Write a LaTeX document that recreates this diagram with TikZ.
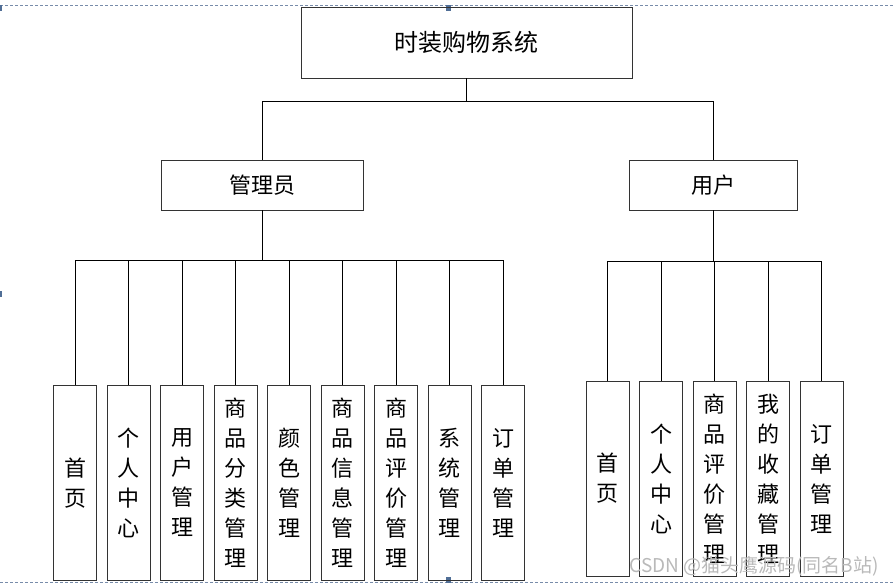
\documentclass[tikz,border=0pt]{standalone}
\usepackage{fontspec}
\setmainfont{Noto Sans CJK SC}
\usepackage{tikz}
\usetikzlibrary{positioning}
\definecolor{dashcol}{RGB}{120,140,170}
\definecolor{markcol}{RGB}{80,110,150}

\begin{document}
\begin{tikzpicture}[x=1pt,y=-1pt,node distance=53.5pt,
				box/.style={draw=black!80,line width=0.9pt,inner sep=0pt},
				leaf/.style={box,minimum width=43pt,minimum height=195pt,
					align=center,font=\fontsize{22}{30}\selectfont},
				tree edge/.style={to path={(\tikztostart.south) -- ++(0,#1)
					-| (\tikztotarget.north)}}]
				\useasboundingbox (0,0) rectangle (894,585);
				
				% selection frame
				\draw[dashcol,line width=0.8pt,dash pattern=on 3pt off 2pt] (0,5) -- (894,5);
				\draw[dashcol,line width=0.8pt,dash pattern=on 3pt off 2pt] (0,582.5) -- (894,582.5);
				\fill[markcol] (446,5) rectangle (451,11);
				\fill[markcol] (446,577) rectangle (451,583);
				\fill[markcol] (0,5) rectangle (2,11);
				\fill[markcol] (0,291) rectangle (2,297);
				
				\node[box,minimum width=331pt,minimum height=71pt,
					font=\fontsize{24}{28}\selectfont] (sys) at (466.5,42.5) {时装购物系统};
				\node[box,minimum width=202pt,minimum height=50pt,
					font=\fontsize{22}{26}\selectfont] (admin) at (262,185) {管理员};
				\node[box,minimum width=168pt,minimum height=50pt,
					font=\fontsize{22}{26}\selectfont] (user) at (713,185) {用户};
				
				\node[leaf] (a1) at (75,483) {首\\页};
				\node[leaf] (a2) [right of=a1] {个\\人\\中\\心};
				\node[leaf] (a3) [right of=a2] {用\\户\\管\\理};
				\node[leaf] (a4) [right of=a3] {商\\品\\分\\类\\管\\理};
				\node[leaf] (a5) [right of=a4] {颜\\色\\管\\理};
				\node[leaf] (a6) [right of=a5] {商\\品\\信\\息\\管\\理};
				\node[leaf] (a7) [right of=a6] {商\\品\\评\\价\\管\\理};
				\node[leaf] (a8) [right of=a7] {系\\统\\管\\理};
				\node[leaf] (a9) [right of=a8] {订\\单\\管\\理};
				
				\node[leaf] (u1) at (607.5,478.5) {首\\页};
				\node[leaf] (u2) [right of=u1] {个\\人\\中\\心};
				\node[leaf] (u3) [right of=u2] {商\\品\\评\\价\\管\\理};
				\node[leaf] (u4) [right of=u3] {我\\的\\收\\藏\\管\\理};
				\node[leaf] (u5) [right of=u4] {订\\单\\管\\理};
				
				\path[line width=0.8pt]
				(sys) edge[tree edge=23] (admin)
				(sys) edge[tree edge=23] (user)
				(admin) edge[tree edge=50] (a1)
				(admin) edge[tree edge=50] (a2)
				(admin) edge[tree edge=50] (a3)
				(admin) edge[tree edge=50] (a4)
				(admin) edge[tree edge=50] (a5)
				(admin) edge[tree edge=50] (a6)
				(admin) edge[tree edge=50] (a7)
				(admin) edge[tree edge=50] (a8)
				(admin) edge[tree edge=50] (a9)
				(user) edge[tree edge=51] (u1)
				(user) edge[tree edge=51] (u2)
				(user) edge[tree edge=51] (u3)
				(user) edge[tree edge=51] (u4)
				(user) edge[tree edge=51] (u5);
				
				\node[text=gray!55,font=\fontsize{19}{19}\selectfont,anchor=east,
					inner sep=0pt] (mark) at (879,566) {CSDN @猫头鹰源码(同名B站)};
			\end{tikzpicture}
\end{document}
